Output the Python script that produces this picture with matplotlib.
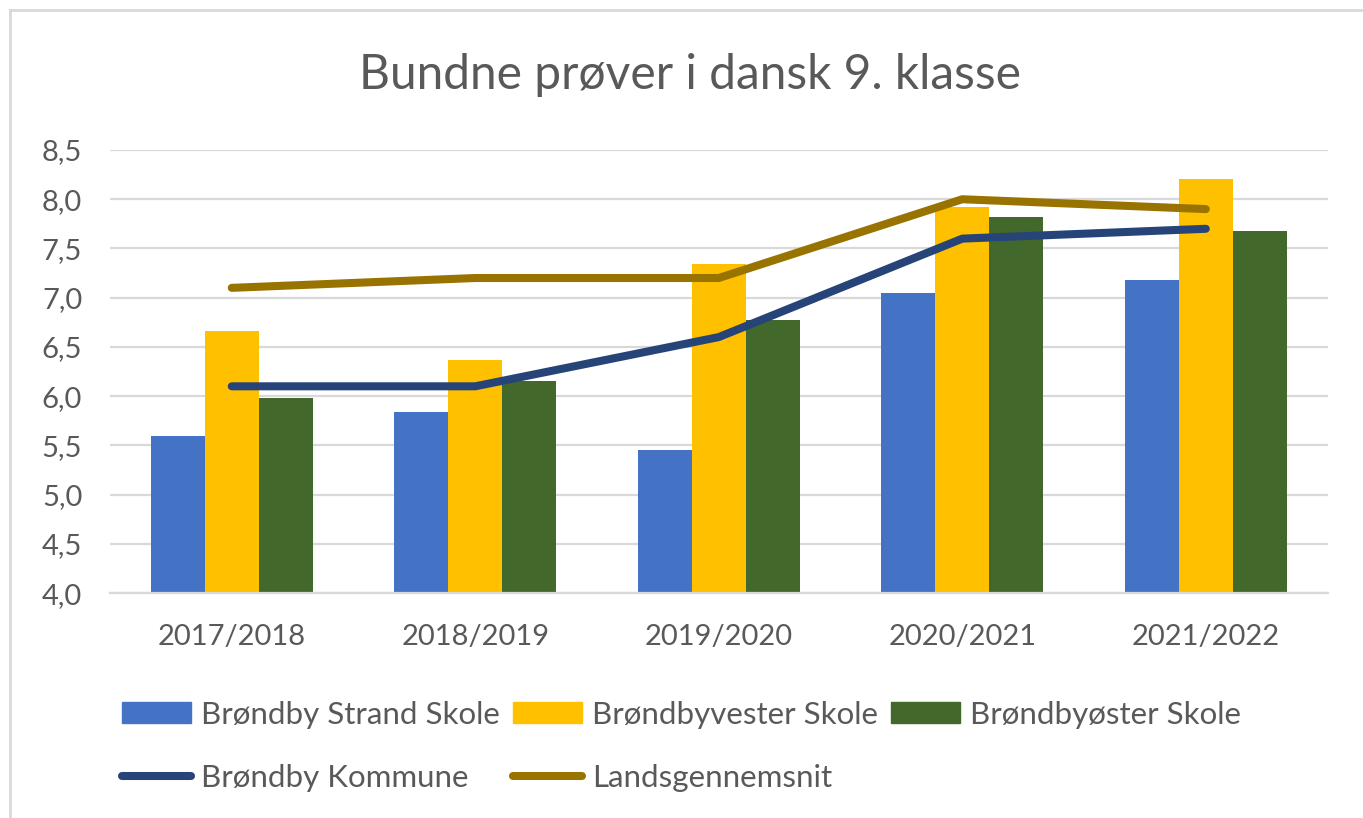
import numpy as np
from matplotlib import pyplot as plt
from matplotlib.lines import Line2D

# ================================================================
# 0. Data
# ================================================================
years = ["2017/2018", "2018/2019", "2019/2020", "2020/2021", "2021/2022"]
strand = [5.60, 5.84, 5.45, 7.05, 7.18]
vester = [6.66, 6.37, 7.34, 7.92, 8.21]
oester = [5.98, 6.15, 6.77, 7.82, 7.68]
kommune = [6.1, 6.1, 6.6, 7.6, 7.7]
lands = [7.1, 7.2, 7.2, 8.0, 7.9]

bar_names = ["Brøndby Strand Skole", "Brøndbyvester Skole", "Brøndbyøster Skole"]
line_names = ["Brøndby Kommune", "Landsgennemsnit"]
yticks = [4.0, 4.5, 5.0, 5.5, 6.0, 6.5, 7.0, 7.5, 8.0, 8.5]

BAR_COLORS = ["#4472C4", "#FFC000", "#43682B"]
LINE_COLORS = ["#264478", "#997300"]
GRID = "#D9D9D9"
TEXT = "#595959"

plt.rcParams["font.family"] = ["Lato", "DejaVu Sans"]

# ================================================================
# 1. Figure
# ================================================================
fig = plt.figure(figsize=(13.63, 8.18), dpi=100)
ax = fig.add_axes([0.0807, 0.275, 0.8933, 0.5416])

x = np.arange(len(years))
w = 0.222
for i, (vals, c) in enumerate(zip([strand, vester, oester], BAR_COLORS)):
    ax.bar(x + (i - 1) * w, np.array(vals) - 4.0, bottom=4.0, width=w,
           color=c, zorder=2)

for vals, c in zip([kommune, lands], LINE_COLORS):
    ax.plot(x, vals, color=c, lw=5.8, solid_capstyle="round",
            solid_joinstyle="round", zorder=3)

ax.set_xlim(-0.5, len(years) - 0.5)
ax.set_ylim(4.0, 8.5)
ax.set_yticks(yticks)
ax.set_yticklabels([f"{v:.1f}".replace(".", ",") for v in yticks])
ax.set_xticks(x)
ax.set_xticklabels(years)
ax.tick_params(length=0, labelsize=21, colors=TEXT)
ax.tick_params(axis="x", pad=22)
ax.tick_params(axis="y", pad=20)
ax.grid(axis="y", color=GRID, lw=1.6, zorder=0)
for s in ("left", "right", "top"):
    ax.spines[s].set_visible(False)
ax.spines["bottom"].set_color(GRID)
ax.spines["bottom"].set_linewidth(1.6)

fig.text(0.506, 0.908, "Bundne prøver i dansk 9. klasse", ha="center", va="center",
         fontsize=34.5, color=TEXT)

# legend: 3 columns, filled column-wise
def patch(c):
    return plt.Rectangle((0, 0), 1, 1, color=c)

handles = [patch(BAR_COLORS[0]), Line2D([], [], color=LINE_COLORS[0], lw=5.8, solid_capstyle="round"),
           patch(BAR_COLORS[1]), Line2D([], [], color=LINE_COLORS[1], lw=5.8, solid_capstyle="round"),
           patch(BAR_COLORS[2])]
labels = [bar_names[0], line_names[0], bar_names[1], line_names[1], bar_names[2]]
fig.legend(handles, labels, ncol=3, loc="center", bbox_to_anchor=(0.5, 0.088),
           frameon=False, fontsize=22.5, handlelength=2.2, handleheight=0.65,
           handletextpad=0.32, columnspacing=0.42, labelspacing=1.12, labelcolor=TEXT)

# outer chart frame (left and top visible)
fig.add_artist(Line2D([0.0073, 0.0073], [0.0, 0.988], color=GRID, lw=2, transform=fig.transFigure))
fig.add_artist(Line2D([0.0073, 1.0], [0.988, 0.988], color=GRID, lw=2, transform=fig.transFigure))

fig.savefig("out.png", dpi=100)
